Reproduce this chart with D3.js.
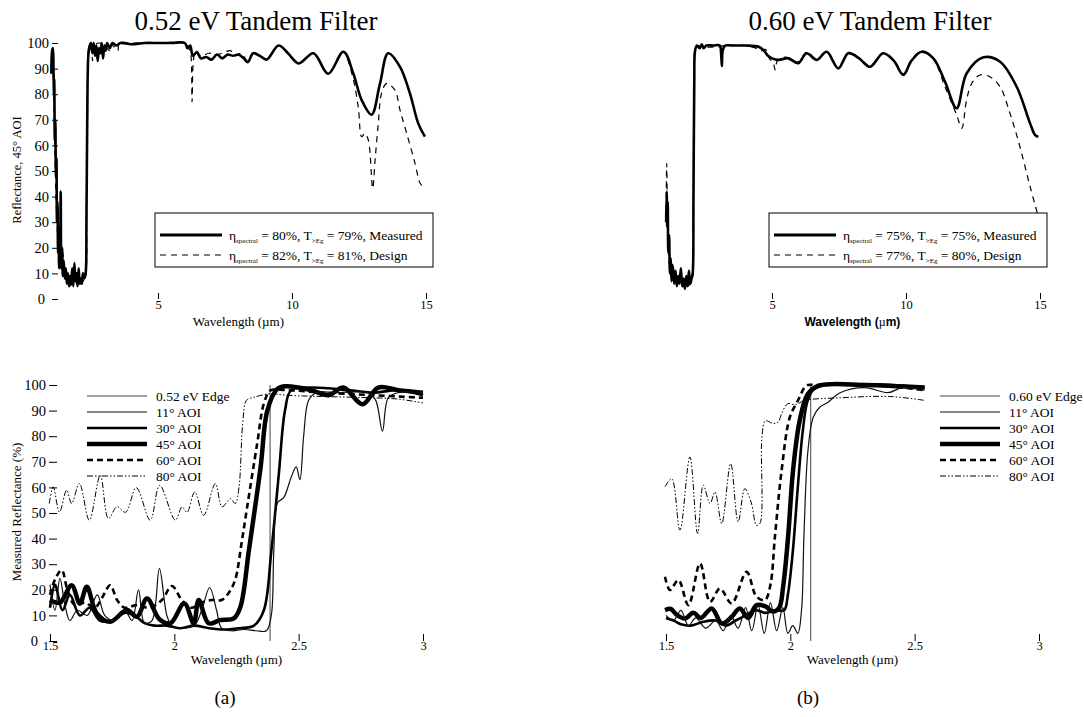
<!DOCTYPE html>
<html>
<head>
<meta charset="utf-8">
<script src="https://cdn.jsdelivr.net/npm/d3@7"></script>
<style>
body { margin: 0; background: #fff; }
svg { font-family: "Liberation Serif", "Times New Roman", serif; }
</style>
</head>
<body>
<div id="scene"></div>
<script>
// ---------- data (wavelength in um, reflectance in %) ----------
var titles = ["0.52 eV Tandem Filter", "0.60 eV Tandem Filter"];
var panelTags = ["(a)", "(b)"];
var topTicks = [5, 10, 15];
var bottomTicks = [1.5, 2, 2.5, 3];
var yTicks = [0, 10, 20, 30, 40, 50, 60, 70, 80, 90, 100];

var tlMeasured = [[1.02,88],[1.05,97],[1.08,98],[1.10,90],[1.12,80],[1.13,86],[1.15,62],[1.17,70],[1.19,48],[1.21,55],[1.23,30],[1.25,38],[1.27,18],[1.29,28],[1.31,12],[1.33,24],[1.35,15],[1.37,42],[1.39,12],[1.42,20],[1.45,9],[1.48,15],[1.52,8],[1.56,12],[1.60,6],[1.64,10],[1.68,5],[1.72,9],[1.76,6],[1.80,12],[1.84,5],[1.88,14],[1.92,7],[1.96,10],[2.00,5],[2.04,12],[2.08,6],[2.12,8],[2.16,6],[2.20,10],[2.25,8],[2.30,10],[2.33,30],[2.36,70],[2.40,95],[2.45,99],[2.50,100],[2.55,96],[2.60,100],[2.65,95],[2.70,99],[2.75,93],[2.80,98],[2.85,96],[2.90,100],[2.95,94],[3.00,99],[3.05,97],[3.10,100],[3.2,98],[3.3,100],[3.45,99],[3.6,100],[4.0,99.5],[4.5,100],[5.0,100],[5.5,100],[6.0,100],[6.1,98],[6.2,99],[6.3,95],[6.45,96.5],[6.6,94],[6.8,94.5],[7.0,93.5],[7.2,95.5],[7.4,94],[7.6,95.5],[7.8,95],[8.0,95.5],[8.2,94],[8.35,92.5],[8.55,96],[8.8,95],[9.05,93.5],[9.5,99],[9.85,96],[10.25,92],[10.8,96],[11.35,88],[11.92,96.6],[12.29,88],[12.6,77.7],[12.97,72],[13.28,84],[13.59,96],[14.03,90.7],[14.4,80.3],[14.71,68.6],[14.96,63.4]];
var tlDesign = [[1.02,93],[1.05,97],[1.08,92],[1.12,75],[1.16,55],[1.20,38],[1.25,26],[1.30,20],[1.35,22],[1.40,14],[1.45,18],[1.50,10],[1.55,12],[1.60,7],[1.65,9],[1.70,5],[1.80,6],[1.90,8],[2.00,5],[2.10,6],[2.20,7],[2.28,8],[2.33,40],[2.37,85],[2.40,97],[2.45,99],[2.52,97],[2.56,93],[2.62,99],[2.8,100],[3.0,99],[3.2,97],[3.25,99.5],[3.5,97],[3.55,100],[4.0,100],[5.0,100],[6.0,100],[6.15,98],[6.22,96],[6.27,77],[6.32,93],[6.4,97],[6.6,95],[6.9,96],[7.2,95.5],[7.5,96.5],[7.7,97],[7.9,95],[8.1,96],[8.35,93],[8.55,96],[8.8,95],[9.05,94],[9.5,99],[9.85,96],[10.25,92.5],[10.8,96],[11.35,88],[11.9,96.6],[12.23,88.2],[12.47,75.1],[12.6,63.4],[12.72,64.7],[12.85,62],[13.01,43.2],[13.1,54.3],[13.22,68.6],[13.34,80.3],[13.53,84.2],[13.84,81.6],[14.03,73.8],[14.28,64.7],[14.59,53],[14.78,45.2],[14.9,44]];

var trMeasured = [[1.05,30],[1.07,42],[1.09,28],[1.11,38],[1.13,18],[1.16,25],[1.19,10],[1.22,16],[1.25,7],[1.30,13],[1.35,6],[1.40,11],[1.45,5],[1.50,9],[1.55,6],[1.60,12],[1.65,5],[1.70,8],[1.75,4],[1.80,9],[1.85,5],[1.90,11],[1.95,6],[2.00,8],[2.04,10],[2.07,40],[2.10,85],[2.13,97],[2.2,99],[2.3,98],[2.38,99.5],[2.45,98],[2.55,99],[2.8,99],[3.05,99],[3.10,96],[3.13,91],[3.16,97],[3.25,99],[3.5,99],[4.0,99],[4.5,98.5],[4.7,97],[4.85,95],[5.0,94],[5.24,93.4],[5.61,94],[5.98,92.1],[6.29,96],[6.67,93.4],[7.04,96.6],[7.47,90.1],[7.85,96],[8.25,94],[8.66,90.7],[9.15,96],[9.55,93],[9.90,87.5],[10.2,93],[10.58,96.6],[11.02,94],[11.45,85],[11.89,74.5],[12.26,88.1],[12.89,94.4],[13.51,92.7],[14.13,82.9],[14.63,68.6],[14.82,64],[14.94,63.4]];
var trDesign = [[1.05,35],[1.07,53],[1.09,40],[1.12,25],[1.16,15],[1.20,12],[1.25,9],[1.30,14],[1.35,7],[1.45,9],[1.55,6],[1.65,5],[1.75,7],[1.85,5],[1.95,6],[2.03,8],[2.06,35],[2.09,85],[2.12,97],[2.2,99],[2.4,98.5],[3.0,98.5],[3.2,99],[4.0,99],[4.4,98],[4.6,97],[4.75,97.5],[4.9,94],[5.05,92],[5.12,89.5],[5.2,93],[5.5,94.5],[5.98,92.6],[6.29,96.5],[6.67,93.8],[7.04,96.8],[7.47,90.6],[7.85,96.3],[8.25,94.2],[8.66,91.2],[9.15,96.2],[9.55,93.3],[9.90,88],[10.2,93.3],[10.58,96.8],[11.02,93.8],[11.45,83],[11.89,71.9],[12.08,66.7],[12.26,77.7],[12.45,84.2],[12.76,87.5],[13.13,86.8],[13.51,82.9],[13.88,72.5],[14.25,59.5],[14.63,43.9],[14.94,32.1]];

var bl80 = [[1.497,53.7],[1.513,60.2],[1.538,50.4],[1.567,58.9],[1.587,53.7],[1.618,61.5],[1.658,47.2],[1.702,64.7],[1.735,47.8],[1.769,52.4],[1.804,50.3],[1.847,59.9],[1.903,47.2],[1.941,60.8],[2.004,47.2],[2.031,52.4],[2.051,50.3],[2.082,58.2],[2.118,49.1],[2.165,61.5],[2.192,52.4],[2.226,55.6],[2.245,53.7],[2.26,60],[2.275,85],[2.29,94],[2.32,95.2],[2.387,96.6],[2.45,96],[2.6,95.5],[2.8,95],[2.9,94.5],[3.0,93]];
var bl60 = [[1.5,18],[1.52,24],[1.547,27.7],[1.57,20],[1.6,14],[1.64,15],[1.68,13],[1.71,17],[1.742,21.8],[1.77,16],[1.80,13],[1.85,14],[1.90,13],[1.95,16],[1.99,21.5],[2.03,16],[2.07,13],[2.11,15],[2.15,16],[2.19,16],[2.22,19],[2.245,24],[2.27,38],[2.293,52.4],[2.333,77],[2.36,92.7],[2.387,97.9],[2.45,98],[2.6,97],[2.8,96],[3.0,95]];
var bl45 = [[1.5,16],[1.54,15],[1.587,21.8],[1.62,14.6],[1.648,21.2],[1.688,10.8],[1.742,7.5],[1.809,12.1],[1.85,9.5],[1.89,16.6],[1.94,8.5],[1.984,6.9],[2.04,14.7],[2.078,6.9],[2.098,16],[2.138,6.9],[2.185,8.2],[2.239,8.8],[2.266,13.4],[2.3,35.5],[2.347,68],[2.374,90],[2.414,98.5],[2.45,99.5],[2.55,98],[2.62,96],[2.68,99],[2.757,92.5],[2.82,99],[2.9,98],[3.0,97]];
var bl30 = [[1.5,13],[1.52,22],[1.55,12],[1.58,18],[1.62,10],[1.66,13],[1.70,8],[1.75,8],[1.80,11],[1.84,10],[1.88,7],[1.92,6],[1.97,6],[2.02,5],[2.08,6],[2.14,5],[2.2,4.5],[2.26,5],[2.32,6],[2.36,12],[2.39,35],[2.42,65],[2.445,90],[2.47,98],[2.55,99],[2.7,98],[2.8,97],[2.9,98],[3.0,96]];
var bl11 = [[1.5,22],[1.52,12],[1.54,24.5],[1.56,14],[1.58,8],[1.61,12],[1.65,10],[1.69,18],[1.72,10],[1.76,8],[1.8,12],[1.83,8],[1.856,20],[1.88,7],[1.91,8],[1.94,28.3],[1.97,10],[1.99,6],[2.03,5],[2.08,6],[2.11,12],[2.142,20.9],[2.17,12],[2.19,5],[2.23,4],[2.28,4.5],[2.33,4],[2.37,4],[2.39,10],[2.40,35],[2.415,54],[2.44,56],[2.47,64],[2.49,68],[2.505,63],[2.52,80],[2.54,94],[2.57,97],[2.65,97],[2.78,97],[2.81,94],[2.837,82],[2.86,95],[2.9,97],[3.0,97]];
var blEdge = 2.385;

var br80 = [[1.496,60.2],[1.523,63.4],[1.556,43.3],[1.596,71.9],[1.627,42],[1.65,60.8],[1.677,53.7],[1.697,58.2],[1.724,45.9],[1.76,69.3],[1.79,46.5],[1.817,59.5],[1.843,54],[1.864,45.2],[1.878,46],[1.886,80],[1.9,86],[1.93,85],[1.951,85.5],[1.965,88.8],[1.99,92.7],[2.02,92.3],[2.06,94],[2.2,95],[2.4,95.5],[2.54,94]];
var br60 = [[1.496,25.1],[1.516,19.9],[1.55,23.8],[1.59,14],[1.637,30.3],[1.677,15.3],[1.717,20.5],[1.764,14.7],[1.824,27],[1.864,17.3],[1.898,16],[1.92,22],[1.938,40.7],[1.965,66.7],[1.998,87.4],[2.031,94],[2.065,99.8],[2.1,100],[2.3,100],[2.45,99],[2.54,98]];
var br45 = [[1.496,12.1],[1.52,12.5],[1.54,10.5],[1.576,8.8],[1.61,11],[1.64,9],[1.684,12.7],[1.724,6.9],[1.76,9],[1.797,12.7],[1.83,9],[1.864,14],[1.90,13.5],[1.93,11.5],[1.955,13],[1.971,21.2],[1.991,40.7],[2.011,66.7],[2.038,86.2],[2.071,96.6],[2.118,99.8],[2.3,100],[2.54,99]];
var br30 = [[1.5,9],[1.53,8],[1.56,6.5],[1.6,6],[1.65,7.5],[1.7,8],[1.74,6],[1.78,8],[1.82,10],[1.86,12],[1.9,11],[1.94,12],[1.975,12],[1.99,18],[2.01,35],[2.03,60],[2.05,82],[2.07,94],[2.1,99],[2.15,100],[2.4,100],[2.54,99]];
var br11 = [[1.5,10],[1.53,8],[1.56,12],[1.59,6],[1.62,9],[1.66,5],[1.7,8],[1.73,4],[1.76,10],[1.79,5],[1.82,13],[1.845,4],[1.87,14],[1.895,3],[1.92,15],[1.945,4],[1.97,13],[1.99,3],[2.01,6],[2.03,3],[2.045,12],[2.055,42],[2.071,74.5],[2.092,87.4],[2.118,91.3],[2.152,93.3],[2.2,97],[2.3,99],[2.393,97],[2.45,99],[2.54,98]];
var brEdge = 2.082;

var aoiLabelsA = ["0.52 eV Edge", "11\u00b0 AOI", "30\u00b0 AOI", "45\u00b0 AOI", "60\u00b0 AOI", "80\u00b0 AOI"];
var aoiLabelsB = ["0.60 eV Edge", "11\u00b0 AOI", "30\u00b0 AOI", "45\u00b0 AOI", "60\u00b0 AOI", "80\u00b0 AOI"];
var legendA = [["80", "79", "Measured"], ["82", "81", "Design"]];
var legendB = [["75", "75", "Measured"], ["77", "80", "Design"]];

// ---------- styles ----------
var aoiStyles = [
  {w: 1, dash: null, c: "#444"},
  {w: 1.2, dash: null, c: "#111"},
  {w: 2.6, dash: null, c: "#000"},
  {w: 4.5, dash: null, c: "#000"},
  {w: 2.6, dash: "6,4", c: "#000"},
  {w: 1, dash: "6,2,1.5,2,1.5,2", c: "#000"}
];
var topStyles = [
  {w: 2.6, dash: null, c: "#000"},
  {w: 1.2, dash: "6,5", c: "#000"}
];

var svg = d3.select("#scene").append("svg")
  .attr("width", 1084).attr("height", 717);

var makeLine = function(x, y) {
  return d3.line()
    .x(function(d) { return x(d[0]); })
    .y(function(d) { return y(d[1]); })
    .curve(d3.curveCatmullRom.alpha(0.5));
};

var drawSeries = function(g, data, st, x, y) {
  g.append("path")
    .datum(data)
    .attr("d", makeLine(x, y))
    .attr("fill", "none")
    .attr("stroke", st.c)
    .attr("stroke-width", st.w)
    .attr("stroke-linejoin", "round")
    .attr("stroke-dasharray", st.dash);
};

var styleAxis = function(g, size) {
  g.select(".domain").remove();
  g.selectAll(".tick line").attr("stroke", "#000");
  g.selectAll(".tick text")
    .attr("fill", "#000")
    .style("font-family", "Liberation Serif, serif")
    .style("font-size", size + "px");
};

// the zero label sits a little left of the others in the original
var nudgeZero = function(g, dx) {
  g.selectAll(".tick text").filter(function(d) { return d === 0; }).attr("dx", dx);
};

/****************************************/
/************* TOP PANELS ***************/
/****************************************/

var drawTop = function(i, x0, series, legend, showY, boldLabel) {
  // same wavelength scale in both panels, 0.60 eV panel shifted right
  var x = d3.scaleLinear().domain([5, 15]).range([x0, x0 + 268]);
  var y = d3.scaleLinear().domain([0, 100]).range([299, 43]);
  var g = svg.append("g");

  var xa = g.append("g").attr("transform", "translate(0,293)")
    .call(d3.axisBottom(x).tickValues(topTicks).tickSize(6).tickPadding(1).tickFormat(d3.format("d")));
  styleAxis(xa, 12.5);

  if (showY) {
    var ya = g.append("g").attr("transform", "translate(58,0)")
      .call(d3.axisLeft(y).tickValues(yTicks).tickSize(6).tickPadding(3));
    styleAxis(ya, 14.5);
    nudgeZero(ya, -4);
    g.append("text")
      .attr("transform", "translate(21,170) rotate(-90)")
      .attr("text-anchor", "middle")
      .style("font-size", "12.5px")
      .text("Reflectance, 45\u00b0 AOI");
  }

  drawSeries(g, series[1], topStyles[1], x, y);
  drawSeries(g, series[0], topStyles[0], x, y);

  // x label
  var lab = g.append("text")
    .attr("x", x(8.0)).attr("y", 326)
    .attr("text-anchor", "middle");
  if (boldLabel) {
    lab.style("font-family", "Liberation Sans, Arial, sans-serif")
      .style("font-weight", "bold").style("font-size", "12px");
    lab.append("tspan").text("Wavelength (");
    lab.append("tspan").style("font-family", "Liberation Serif, serif").style("font-weight", "normal").text("\u00b5");
    lab.append("tspan").text("m)");
  } else {
    lab.style("font-size", "13px").text("Wavelength (\u00b5m)");
  }

  // title
  g.append("text")
    .attr("x", x0 + 98).attr("y", 30)
    .attr("text-anchor", "middle")
    .style("font-size", "27px")
    .text(titles[i]);

  // legend
  var bx = x0 - 3, by = 213;
  g.append("rect")
    .attr("x", bx).attr("y", by).attr("width", 278).attr("height", 54)
    .attr("fill", "#fff").attr("stroke", "#000").attr("stroke-width", 1);
  legend.forEach(function(row, k) {
    var ly = by + 22 + k * 20;
    g.append("line")
      .attr("x1", bx + 5).attr("x2", bx + 67)
      .attr("y1", ly).attr("y2", ly)
      .attr("stroke", "#000")
      .attr("stroke-width", topStyles[k].w + (k == 0 ? 0.6 : 0))
      .attr("stroke-dasharray", topStyles[k].dash);
    var t = g.append("text")
      .attr("x", bx + 74).attr("y", ly + 4.5)
      .style("font-size", "13.5px");
    t.append("tspan").text("\u03b7");
    t.append("tspan").attr("dy", 3).style("font-size", "7px").text("spectral");
    t.append("tspan").attr("dy", -3).text(" = " + row[0] + "%, T");
    t.append("tspan").attr("dy", 3).style("font-size", "7px").text(">Eg");
    t.append("tspan").attr("dy", -3).text(" = " + row[1] + "%, " + row[2]);
  });
};

drawTop(0, 158, [tlMeasured, tlDesign], legendA, true, false);
drawTop(1, 772, [trMeasured, trDesign], legendB, false, true);

/****************************************/
/*********** BOTTOM PANELS **************/
/****************************************/

var drawBottom = function(x0, series, edge, labels, legX, showY, tag, tagX) {
  var x = d3.scaleLinear().domain([1.5, 3]).range([x0, x0 + 373]);
  var y = d3.scaleLinear().domain([0, 100]).range([641, 385]);
  var g = svg.append("g");

  var xa = g.append("g").attr("transform", "translate(0,634)")
    .call(d3.axisBottom(x).tickValues(bottomTicks).tickSize(7).tickPadding(0).tickFormat(function(d) { return d; }));
  styleAxis(xa, 12.5);

  if (showY) {
    var ya = g.append("g").attr("transform", "translate(57,0)")
      .call(d3.axisLeft(y).tickValues(yTicks).tickSize(8).tickPadding(3));
    styleAxis(ya, 14.5);
    nudgeZero(ya, -8);
    g.append("text")
      .attr("transform", "translate(21,512) rotate(-90)")
      .attr("text-anchor", "middle")
      .style("font-size", "13px")
      .text("Measured Reflectance (%)");
  }

  // edge line
  g.append("line")
    .attr("x1", x(edge)).attr("x2", x(edge))
    .attr("y1", y(0)).attr("y2", y(100))
    .attr("stroke", aoiStyles[0].c).attr("stroke-width", aoiStyles[0].w);

  for (var k = series.length - 1; k >= 0; k--) {
    drawSeries(g, series[k], aoiStyles[k + 1], x, y);
  }

  g.append("text")
    .attr("x", x(2.25)).attr("y", 664)
    .attr("text-anchor", "middle")
    .style("font-size", "13px")
    .text("Wavelength (\u00b5m)");

  labels.forEach(function(lbl, k) {
    var ly = 396 + k * 16;
    var st = aoiStyles[k];
    g.append("line")
      .attr("x1", legX).attr("x2", legX + 60)
      .attr("y1", ly).attr("y2", ly)
      .attr("stroke", st.c).attr("stroke-width", st.w)
      .attr("stroke-dasharray", st.dash);
    g.append("text")
      .attr("x", legX + 69).attr("y", ly + 4.5)
      .style("font-size", "13.5px")
      .text(lbl);
  });

  svg.append("text")
    .attr("x", tagX).attr("y", 704)
    .attr("text-anchor", "middle")
    .style("font-size", "19px")
    .text(tag);
};

drawBottom(50, [bl11, bl30, bl45, bl60, bl80], blEdge, aoiLabelsA, 87, true, panelTags[0], 225);
drawBottom(666, [br11, br30, br45, br60, br80], brEdge, aoiLabelsB, 940, false, panelTags[1], 808);
</script>
</body>
</html>
